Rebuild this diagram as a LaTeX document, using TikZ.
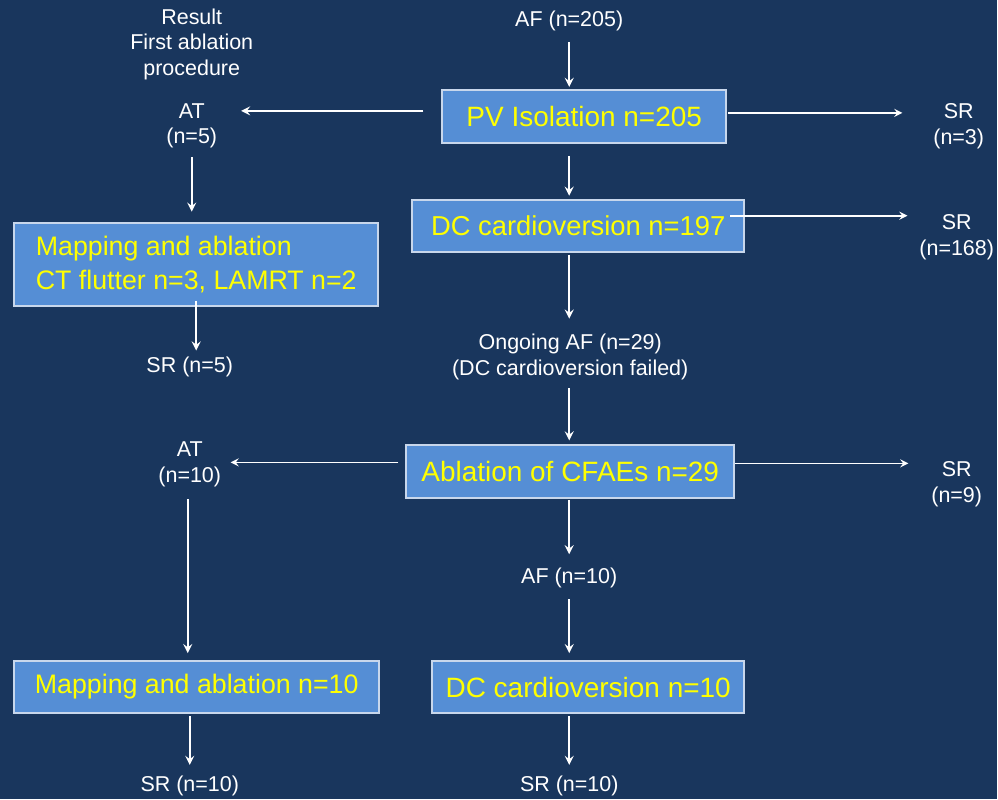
\documentclass[tikz,border=0pt]{standalone}
\usepackage{fontspec}
\setmainfont{Liberation Sans}
\definecolor{bg}{RGB}{25,54,93}
\definecolor{boxfill}{RGB}{85,142,213}
\definecolor{boxline}{RGB}{200,215,236}
\definecolor{boxtext}{RGB}{255,255,0}
\tikzset{
  lbl/.style={text=white, align=center, inner sep=2pt, font=\fontsize{10.75}{13}\selectfont},
  stage/.style={draw=boxline, line width=1pt, fill=boxfill, text=boxtext, inner sep=0pt,
    font=\fontsize{14}{17}\selectfont},
}

\begin{document}
\begin{tikzpicture}[x=0.5pt, y=-0.5pt, >=stealth, every path/.style={white, line width=1pt}]
  \fill[bg] (0,0) rectangle (998,800);

  \node[lbl] (res) at (192,44.5) {Result\\First ablation\\procedure};
  \node[lbl] (af) at (570,21) {AF (n=205)};
  \node[stage, minimum width=142pt, minimum height=26.5pt] (pvi) at (585,116.5) {PV Isolation n=205};
  \node[lbl] (atA) at (192,126) {AT\\(n=5)};
  \node[lbl] (srA) at (960,126) {SR\\(n=3)};
  \node[stage, minimum width=166pt, minimum height=26pt, font=\fontsize{13.7}{17}\selectfont] (dc) at (579,226) {DC cardioversion n=197};
  \node[lbl] (srB) at (958,238) {SR\\(n=168)};
  \node[stage, minimum width=182.5pt, minimum height=41.5pt, align=left,
        font=\fontsize{13.4}{17}\selectfont] (map) at (196.5,264.5) {Mapping and ablation\\CT flutter n=3, LAMRT n=2};
  \node[lbl] (srC) at (190,367) {SR (n=5)};
  \node[lbl] (ongo) at (571,357) {Ongoing AF (n=29)\\(DC cardioversion failed)};
  \node[stage, minimum width=164pt, minimum height=26.5pt] (cfae) at (571,472.5) {Ablation of CFAEs n=29};
  \node[lbl] (atB) at (190,465) {AT\\(n=10)};
  \node[lbl] (srD) at (958,485) {SR\\(n=9)};
  \node[lbl] (afB) at (570,579) {AF (n=10)};
  \node[stage, minimum width=183pt, minimum height=26pt,
        font=\fontsize{13.4}{17}\selectfont] (map2) at (197,688) {Mapping and ablation n=10};
  \node[stage, minimum width=156pt, minimum height=26pt] (dc2) at (589,688) {DC cardioversion n=10};
  \node[lbl] (srE) at (190,787) {SR (n=10)};
  \node[lbl] (srF) at (570,787) {SR (n=10)};

  % first ablation procedure
  \draw[->, shorten <=3pt, shorten >=1pt] (af) -- (af |- pvi.north);
  \draw[->, shorten <=9pt, shorten >=9.5pt] ([yshift=2.75pt]pvi.west) -- ([yshift=2.75pt]pvi.west -| atA.east);
  \draw[->, line width=0.8pt, shorten <=0.5pt, shorten >=13pt] ([yshift=1.75pt]pvi.east) -- ([yshift=1.75pt]pvi.east -| srA.west);
  \draw[->, shorten <=6pt, shorten >=1.5pt] (pvi.south -| af) -- (dc.north -| af);
  \draw[->, line width=0.8pt, shorten <=-7.5pt, shorten >=3.5pt] ([yshift=5pt]dc.east) -- ([yshift=5pt]dc.east -| srB.west);
  \draw[->, shorten <=2pt, shorten >=5pt] (atA) -- (atA |- map.north);
  \draw[->, shorten <=-3pt, shorten >=0.5pt] (map.south) -- (map.south |- srC.north);
  \draw[->, shorten <=1pt, shorten >=5pt] (dc.south -| af) -- (ongo.north -| af);
  \draw[->, shorten <=2pt, shorten >=2pt] (ongo.south -| af) -- (cfae.north -| af);
  % CFAE ablation
  \draw[->, line width=0.8pt, shorten <=3.5pt, shorten >=2.25pt] ([yshift=4.75pt]cfae.west) -- ([yshift=4.75pt]cfae.west -| atB.east);
  \draw[->, line width=0.8pt, shorten <=0pt, shorten >=9pt] ([yshift=4.25pt]cfae.east) -- ([yshift=4.25pt]cfae.east -| srD.west);
  \draw[->, shorten <=0.5pt, shorten >=4.5pt] (cfae.south -| af) -- (afB);
  \draw[->, shorten <=3pt, shorten >=3.5pt] (afB) -- (afB |- dc2.north);
  \draw[->, shorten <=3.75pt, shorten >=3.5pt] ([xshift=-1pt]atB.south) -- ([xshift=-1pt]atB.south |- map2.north);
  \draw[->, shorten <=1pt, shorten >=3pt] (map2.south -| srE) -- (srE);
  \draw[->, shorten <=1pt, shorten >=3pt] (dc2.south -| srF) -- (srF);
\end{tikzpicture}
\end{document}
